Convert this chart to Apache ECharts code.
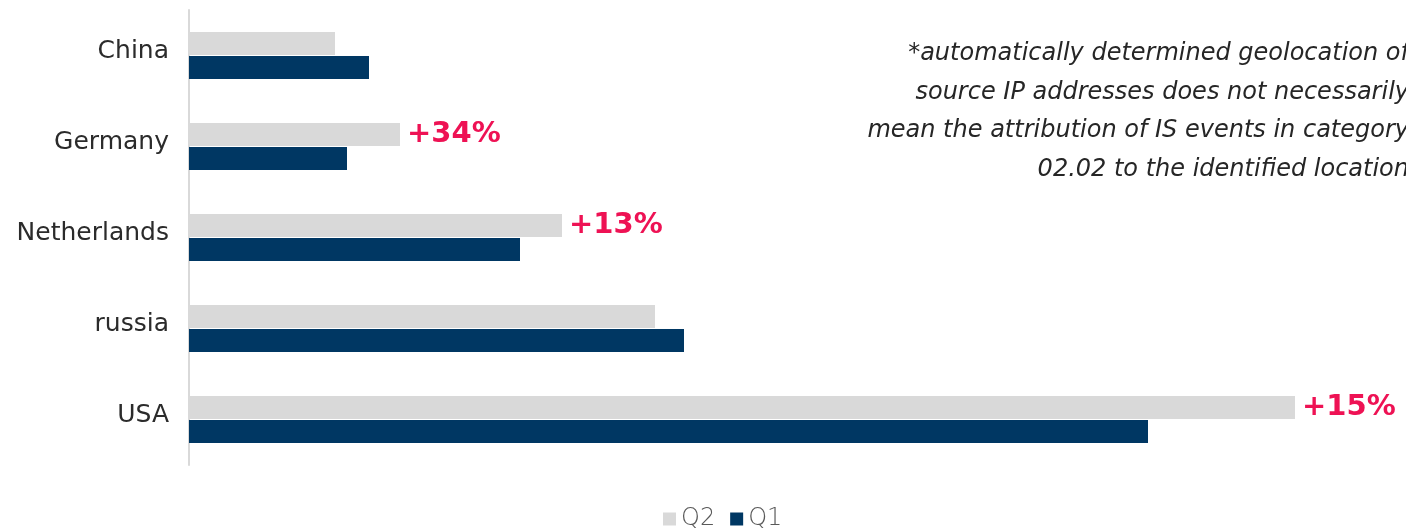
<!DOCTYPE html>
<html>
<head>
<meta charset="utf-8">
<style>
  html, body { margin: 0; padding: 0; background: #fff; }
  #chart { width: 1406px; height: 529px; }
</style>
<script src="https://cdn.jsdelivr.net/npm/echarts@6/dist/echarts.min.js"></script>
</head>
<body>
<div id="chart"></div>
<script>
// Source countries of attacks, Q2 vs Q1
const countries = ['China', 'Germany', 'Netherlands', 'russia', 'USA'];
const q2Values = [146, 211, 373, 466, 1106];
const q1Values = [180, 158, 331, 495, 959];
// Countries annotated with the quarter-over-quarter growth
const annotated = [false, true, true, false, true];
const noteLines = [
  '*automatically determined geolocation of',
  'source IP addresses does not necessarily',
  'mean the attribution of IS events in category',
  '02.02 to the identified location'
];

const FONT = '"DejaVu Sans", "Noto Sans", sans-serif';

function growthLabel(i) {
  if (!annotated[i]) return '';
  const pct = Math.round((q2Values[i] / q1Values[i] - 1) * 100);
  return (pct >= 0 ? '+' : '') + pct + '%';
}

const chart = echarts.init(document.getElementById('chart'), null, { renderer: 'canvas' });

chart.setOption({
  animation: false,
  backgroundColor: '#ffffff',
  grid: { left: 189, right: 0, top: 10, bottom: 64, containLabel: false },
  legend: {
    bottom: -7,
    left: 658,
    itemWidth: 13,
    itemHeight: 13,
    itemGap: 15,
    icon: 'rect',
    textStyle: { fontFamily: FONT, fontSize: 24, fontWeight: 200, color: '#595959', padding: [0, 0, 0, 0] },
    data: ['Q2', 'Q1']
  },
  xAxis: {
    type: 'value',
    min: 0,
    max: 1217,
    show: false
  },
  yAxis: {
    type: 'category',
    data: countries,
    inverse: true,
    axisLine: { show: true, lineStyle: { color: '#d9d9d9', width: 2 } },
    axisTick: { show: false },
    axisLabel: {
      margin: 20,
      formatter: v => '{c|' + v + '}',
      rich: {
        c: {
          fontFamily: FONT, fontSize: 25, fontWeight: 'normal', color: '#2b2b2b',
          padding: [0, 0, 9, 0]
        }
      }
    },
    splitLine: { show: false }
  },
  series: [
    {
      name: 'Q2',
      type: 'bar',
      data: q2Values,
      barWidth: 23,
      barGap: '4%',
      itemStyle: { color: '#d9d9d9' },
      label: {
        show: true,
        position: 'right',
        distance: 7,
        formatter: p => growthLabel(p.dataIndex),
        fontFamily: FONT,
        fontSize: 29,
        fontWeight: 'bold',
        color: '#ee1254',
        padding: [5, 0, 0, 0]
      }
    },
    {
      name: 'Q1',
      type: 'bar',
      data: q1Values,
      barWidth: 23,
      itemStyle: { color: '#003763' }
    }
  ],
  graphic: noteLines.map((line, i) => ({
    type: 'text',
    right: -3,
    top: 42 + i * 38.5,
    style: {
      text: line,
      fontFamily: FONT,
      fontSize: 24,
      fontStyle: 'italic',
      fontWeight: 200,
      fill: '#262626',
      textAlign: 'right'
    }
  }))
});
</script>
</body>
</html>
